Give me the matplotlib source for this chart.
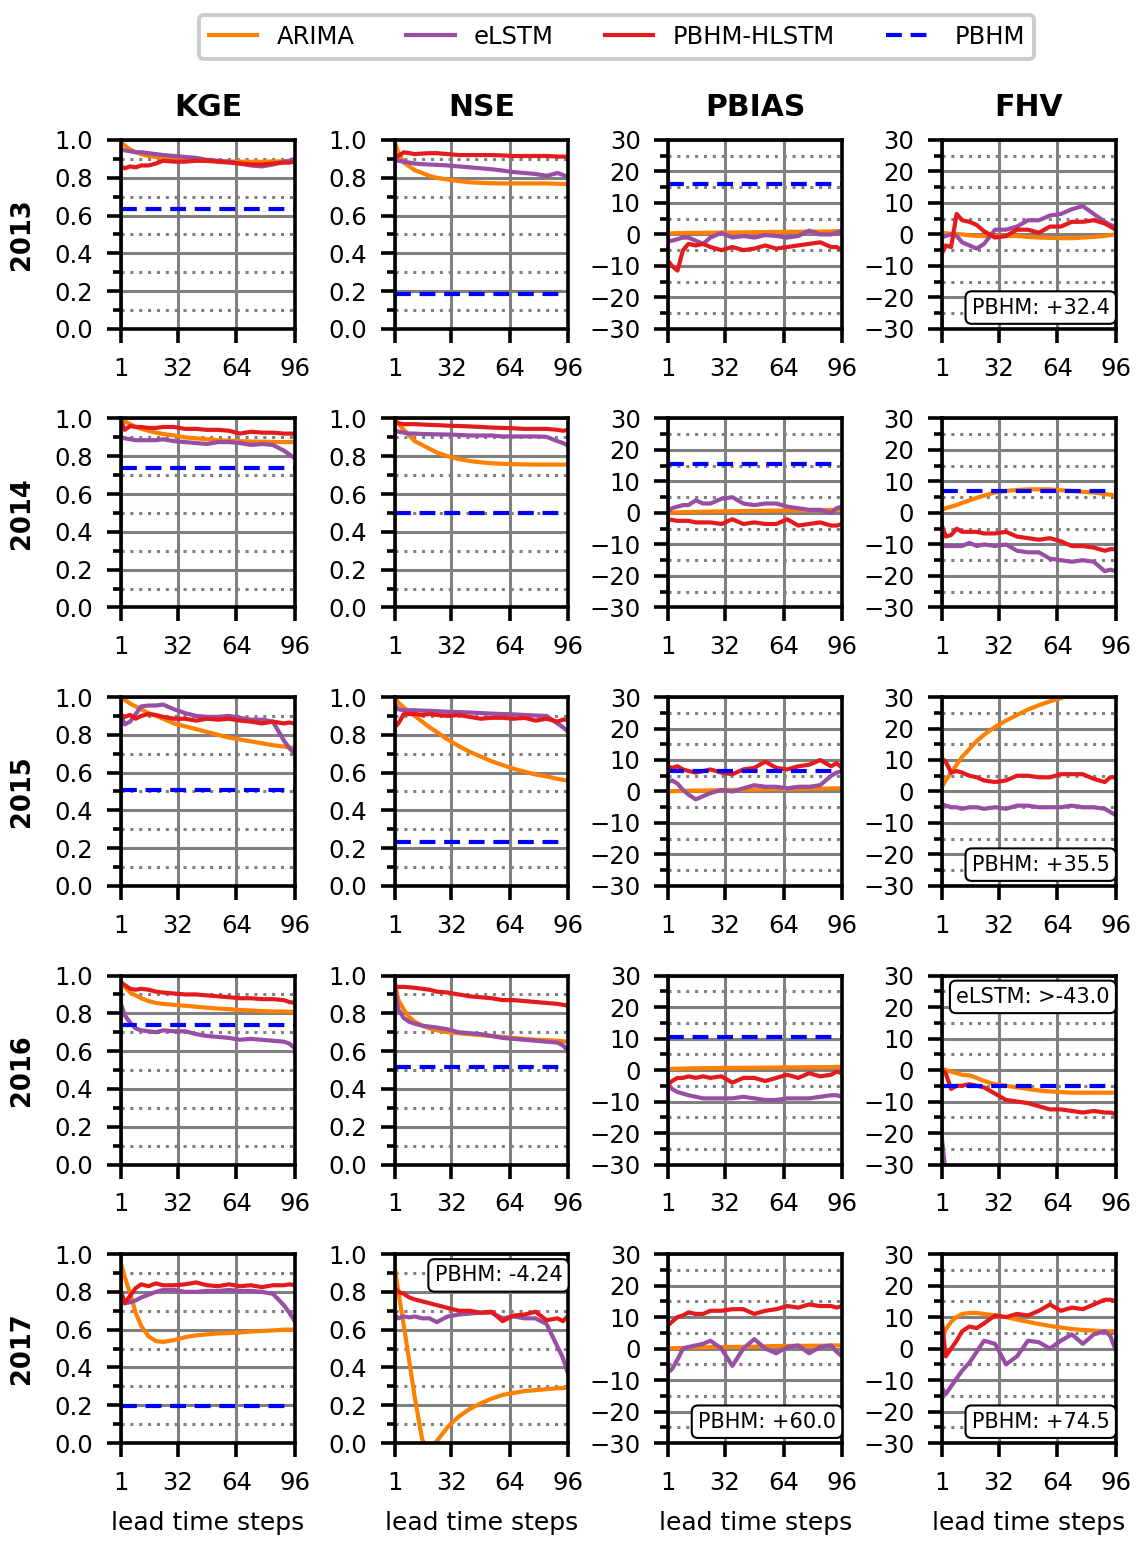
import matplotlib
matplotlib.use("Agg")
import matplotlib.pyplot as plt
from matplotlib.ticker import MultipleLocator

LEAD = [1, 3, 6, 9, 12, 16, 20, 24, 30, 36, 42, 48, 54, 60, 66, 72, 78, 84, 90, 93, 96]
YEARS = [2013, 2014, 2015, 2016, 2017]
METRICS = ["KGE", "NSE", "PBIAS", "FHV"]

# ---- KGE ----
KGE_ARIMA = {
    2013: [0.99, 0.97, 0.95, 0.935, 0.925, 0.915, 0.91, 0.905, 0.895, 0.89, 0.89, 0.888, 0.887, 0.886, 0.885, 0.885, 0.885, 0.886, 0.887, 0.888, 0.89],
    2014: [1.0, 0.985, 0.97, 0.955, 0.945, 0.935, 0.925, 0.918, 0.91, 0.9, 0.895, 0.89, 0.885, 0.882, 0.88, 0.878, 0.877, 0.876, 0.875, 0.875, 0.875],
    2015: [1.0, 0.985, 0.965, 0.95, 0.935, 0.915, 0.9, 0.885, 0.86, 0.845, 0.83, 0.815, 0.80, 0.785, 0.775, 0.765, 0.755, 0.745, 0.738, 0.733, 0.73],
    2016: [0.97, 0.94, 0.91, 0.895, 0.88, 0.865, 0.855, 0.85, 0.845, 0.84, 0.835, 0.83, 0.825, 0.822, 0.818, 0.815, 0.812, 0.81, 0.81, 0.808, 0.808],
    2017: [0.95, 0.88, 0.79, 0.69, 0.62, 0.565, 0.54, 0.535, 0.545, 0.56, 0.57, 0.575, 0.58, 0.582, 0.585, 0.59, 0.593, 0.596, 0.6, 0.6, 0.6],
}
KGE_ELSTM = {
    2013: [0.95, 0.945, 0.94, 0.935, 0.935, 0.93, 0.925, 0.92, 0.915, 0.91, 0.905, 0.895, 0.89, 0.885, 0.875, 0.865, 0.86, 0.87, 0.885, 0.89, 0.9],
    2014: [0.9, 0.895, 0.89, 0.885, 0.885, 0.885, 0.885, 0.89, 0.88, 0.875, 0.87, 0.865, 0.875, 0.875, 0.87, 0.86, 0.865, 0.86, 0.83, 0.81, 0.79],
    2015: [0.9, 0.855, 0.87, 0.91, 0.95, 0.955, 0.955, 0.96, 0.935, 0.915, 0.9, 0.895, 0.895, 0.9, 0.89, 0.88, 0.88, 0.87, 0.77, 0.73, 0.70],
    2016: [0.85, 0.79, 0.75, 0.72, 0.71, 0.705, 0.70, 0.71, 0.705, 0.705, 0.69, 0.68, 0.675, 0.67, 0.66, 0.665, 0.66, 0.655, 0.65, 0.64, 0.615],
    2017: [0.8, 0.74, 0.745, 0.755, 0.77, 0.785, 0.8, 0.81, 0.81, 0.8, 0.8, 0.805, 0.805, 0.81, 0.805, 0.805, 0.8, 0.79, 0.73, 0.69, 0.645],
}
KGE_HLSTM = {
    2013: [0.86, 0.85, 0.86, 0.855, 0.865, 0.865, 0.875, 0.89, 0.885, 0.885, 0.89, 0.89, 0.885, 0.88, 0.875, 0.87, 0.87, 0.875, 0.88, 0.88, 0.885],
    2014: [0.99, 0.94, 0.96, 0.955, 0.955, 0.95, 0.95, 0.955, 0.955, 0.945, 0.945, 0.94, 0.94, 0.935, 0.92, 0.93, 0.925, 0.925, 0.92, 0.92, 0.92],
    2015: [0.905, 0.895, 0.905, 0.885, 0.9, 0.91, 0.905, 0.895, 0.885, 0.885, 0.875, 0.885, 0.88, 0.885, 0.875, 0.87, 0.86, 0.87, 0.86, 0.865, 0.86],
    2016: [0.96, 0.95, 0.93, 0.925, 0.93, 0.925, 0.915, 0.91, 0.905, 0.9, 0.9, 0.895, 0.89, 0.885, 0.88, 0.88, 0.875, 0.875, 0.87, 0.86, 0.855],
    2017: [0.8, 0.74, 0.78, 0.82, 0.84, 0.83, 0.845, 0.835, 0.835, 0.84, 0.85, 0.835, 0.83, 0.84, 0.83, 0.835, 0.825, 0.835, 0.835, 0.84, 0.835],
}
KGE_PBHM = {2013: 0.635, 2014: 0.74, 2015: 0.51, 2016: 0.74, 2017: 0.195}

# ---- NSE ----
NSE_ARIMA = {
    2013: [0.99, 0.93, 0.88, 0.86, 0.84, 0.825, 0.81, 0.80, 0.79, 0.782, 0.776, 0.773, 0.771, 0.77, 0.77, 0.77, 0.77, 0.77, 0.768, 0.767, 0.765],
    2014: [1.0, 0.97, 0.94, 0.91, 0.88, 0.86, 0.84, 0.82, 0.80, 0.785, 0.775, 0.768, 0.763, 0.76, 0.758, 0.757, 0.756, 0.756, 0.756, 0.756, 0.756],
    2015: [1.0, 0.97, 0.945, 0.92, 0.9, 0.87, 0.84, 0.815, 0.775, 0.74, 0.71, 0.685, 0.66, 0.64, 0.62, 0.605, 0.59, 0.58, 0.567, 0.562, 0.556],
    2016: [0.97, 0.87, 0.82, 0.78, 0.755, 0.735, 0.72, 0.71, 0.70, 0.695, 0.69, 0.685, 0.68, 0.675, 0.67, 0.665, 0.66, 0.658, 0.655, 0.652, 0.65],
    2017: [0.93, 0.8, 0.62, 0.43, 0.24, 0.02, -0.06, 0.01, 0.085, 0.14, 0.18, 0.21, 0.235, 0.255, 0.265, 0.275, 0.28, 0.285, 0.29, 0.29, 0.295],
}
NSE_ELSTM = {
    2013: [0.9, 0.89, 0.885, 0.88, 0.875, 0.872, 0.87, 0.868, 0.865, 0.86, 0.855, 0.85, 0.845, 0.838, 0.83, 0.825, 0.82, 0.81, 0.825, 0.815, 0.80],
    2014: [0.94, 0.93, 0.925, 0.92, 0.92, 0.918, 0.917, 0.916, 0.915, 0.913, 0.91, 0.91, 0.91, 0.905, 0.905, 0.905, 0.905, 0.903, 0.88, 0.87, 0.855],
    2015: [0.96, 0.935, 0.93, 0.93, 0.93, 0.928, 0.927, 0.925, 0.922, 0.92, 0.918, 0.915, 0.912, 0.91, 0.908, 0.905, 0.902, 0.9, 0.86, 0.84, 0.815],
    2016: [0.93, 0.82, 0.775, 0.755, 0.745, 0.735, 0.73, 0.725, 0.715, 0.70, 0.695, 0.69, 0.68, 0.67, 0.665, 0.66, 0.655, 0.65, 0.645, 0.63, 0.60],
    2017: [0.68, 0.66, 0.67, 0.665, 0.67, 0.66, 0.66, 0.64, 0.67, 0.68, 0.685, 0.69, 0.69, 0.66, 0.67, 0.66, 0.66, 0.63, 0.51, 0.45, 0.36],
}
NSE_HLSTM = {
    2013: [0.92, 0.915, 0.935, 0.93, 0.925, 0.928, 0.93, 0.93, 0.925, 0.92, 0.92, 0.92, 0.92, 0.918, 0.915, 0.915, 0.915, 0.915, 0.912, 0.912, 0.91],
    2014: [0.98, 0.975, 0.97, 0.97, 0.97, 0.968, 0.966, 0.965, 0.962, 0.96, 0.958, 0.955, 0.952, 0.95, 0.948, 0.945, 0.945, 0.945, 0.94, 0.935, 0.94],
    2015: [0.84, 0.86, 0.91, 0.91, 0.91, 0.905, 0.91, 0.905, 0.9, 0.905, 0.895, 0.885, 0.89, 0.89, 0.885, 0.89, 0.875, 0.885, 0.87, 0.88, 0.88],
    2016: [0.94, 0.94, 0.94, 0.938, 0.935, 0.93, 0.925, 0.915, 0.91, 0.90, 0.89, 0.885, 0.88, 0.87, 0.87, 0.865, 0.86, 0.855, 0.85, 0.845, 0.84],
    2017: [0.82, 0.8, 0.79, 0.77, 0.76, 0.75, 0.74, 0.73, 0.715, 0.70, 0.70, 0.69, 0.695, 0.645, 0.675, 0.68, 0.695, 0.65, 0.66, 0.645, 0.675],
}
NSE_PBHM = {2013: 0.185, 2014: 0.5, 2015: 0.235, 2016: 0.515, 2017: -4.24}

# ---- PBIAS ----
PBIAS_ARIMA = {
    2013: [0.3, 0.35, 0.4, 0.45, 0.5, 0.5, 0.5, 0.55, 0.6, 0.6, 0.65, 0.7, 0.75, 0.8, 0.85, 0.85, 0.9, 0.9, 0.95, 1.0, 1.0],
    2014: [0.0, 0.1, 0.2, 0.25, 0.3, 0.35, 0.4, 0.45, 0.5, 0.55, 0.6, 0.65, 0.7, 0.75, 0.8, 0.8, 0.85, 0.9, 0.95, 1.0, 1.0],
    2015: [0.0, 0.1, 0.15, 0.2, 0.25, 0.3, 0.3, 0.35, 0.4, 0.5, 0.55, 0.6, 0.7, 0.75, 0.8, 0.85, 0.9, 0.9, 0.95, 1.0, 1.0],
    2016: [0.3, 0.35, 0.4, 0.45, 0.5, 0.55, 0.6, 0.6, 0.65, 0.7, 0.7, 0.75, 0.75, 0.8, 0.85, 0.85, 0.9, 0.9, 0.95, 1.0, 1.0],
    2017: [0.0, 0.1, 0.15, 0.2, 0.3, 0.35, 0.4, 0.45, 0.5, 0.5, 0.55, 0.6, 0.7, 0.8, 0.85, 0.85, 0.9, 0.9, 0.95, 1.0, 1.0],
}
PBIAS_ELSTM = {
    2013: [-2, -2, -1.5, -1, -1, -2, -3, -1, 0.5, -1, -0.5, -1, -0.2, -0.5, -1, -0.5, 1.2, 0, 0, 0.5, 1.2],
    2014: [0.5, 1.5, 2, 2.5, 2.5, 4, 3, 3, 4.5, 5, 3, 2.5, 3, 3, 2, 1.5, 1, 1, 0, 1.5, 2],
    2015: [3, 3.5, 2.5, 0.5, -1, -2.5, -1.5, -0.5, 0.5, 0, 1, 2, 1.5, 1.5, 1, 1.5, 1.5, 2, 5, 6, 6.5],
    2016: [-4.5, -6, -7, -7.5, -8, -8.5, -9, -9, -9, -9, -8.5, -9, -9.5, -9.5, -9, -9, -9, -8.5, -8, -8, -8.5],
    2017: [-7.5, -6.5, -3.5, 0, 0.5, 1, 1.5, 2.5, 0, -5.5, 0, 3, 0, -1.5, 0.5, 1, -1.5, 0.5, 1, -1, -2.5],
}
PBIAS_HLSTM = {
    2013: [-8.5, -10, -11.5, -5, -3, -3.5, -3, -4, -5, -4, -5, -4.5, -3.5, -4.5, -4, -3.5, -3, -2.5, -4, -4, -5],
    2014: [-2, -2.2, -2.5, -2.5, -2.5, -3, -3, -3, -3.5, -2, -3.5, -3, -3.5, -3.5, -2, -4, -3.5, -3, -4, -4, -3.5],
    2015: [8, 7.5, 8, 7, 6.5, 6, 6.5, 7, 6, 5.5, 7, 7.5, 9.5, 7.5, 7, 8, 8.5, 10, 8, 9, 7.5],
    2016: [-4.5, -3.5, -2.5, -2.5, -2, -2.5, -2, -2.5, -2, -4, -2.5, -2.5, -3.5, -2.5, -1.5, -2.5, -1, -2, -1.5, -0.5, -1],
    2017: [7.5, 8.5, 10, 10.5, 11.5, 11, 11, 12, 12, 12.5, 12.5, 11, 12, 12.5, 13.5, 13, 14, 13.5, 13.5, 13, 13.5],
}
PBIAS_PBHM = {2013: 16, 2014: 15.5, 2015: 6.5, 2016: 10.5, 2017: 60.0}

# ---- FHV ----
FHV_ARIMA = {
    2013: [0.5, 0.4, 0.2, 0.1, 0, -0.3, -0.5, -0.5, -0.5, -0.5, -0.5, -0.8, -1, -1.1, -1.2, -1.2, -1, -0.8, -0.5, -0.2, 0],
    2014: [1, 1.5, 2, 2.5, 3.2, 4, 4.8, 5.5, 6.5, 7, 7.3, 7.5, 7.5, 7.5, 7.2, 7, 6.7, 6.5, 6, 5.8, 5.5],
    2015: [1.5, 3.5, 6, 8.5, 11, 13.5, 16, 18, 20.5, 22.5, 24.3, 26, 27.4, 28.6, 29.7, 30.6, 31.4, 32.1, 32.7, 33, 33.2],
    2016: [0.5, 0, -0.5, -1, -1.5, -1.7, -2.5, -3.5, -4.5, -5, -5.5, -6, -6.5, -6.8, -7, -7.2, -7.2, -7.2, -7.2, -7.2, -7.2],
    2017: [3, 6, 8.5, 10, 11, 11.3, 11.3, 11, 10.5, 10, 9.2, 8.5, 7.8, 7.2, 6.7, 6.2, 5.9, 5.7, 5.5, 5.5, 5.5],
}
FHV_ELSTM = {
    2013: [-1, -0.5, 0, -0.5, -2.5, -3.5, -4.5, -3, 1.5, 1.5, 2.5, 4.5, 4.5, 6, 6.5, 8, 9, 6.5, 4, 3, 2.5],
    2014: [-10.5, -10.5, -10.5, -10.5, -10.5, -9.5, -10.5, -10, -10.5, -10, -12, -12.5, -12.5, -14.5, -15, -15.5, -15, -15.5, -18.5, -18, -18.5],
    2015: [-4, -4.5, -5, -5, -5.5, -5, -5, -5.5, -5, -5.5, -4.5, -4.5, -5, -5, -5, -4.5, -5, -5, -5.5, -6.5, -7.5],
    2016: [-22, -33, -38, -40, -41, -42, -42, -42, -41, -41, -40, -40, -41, -42, -42, -41, -41, -42, -42, -42, -42],
    2017: [-12.5, -14.5, -12, -9.5, -7, -4.5, -1, 2.5, 1.5, -5, -2.5, 2.5, 2, 0, 2.5, 4.5, 1.5, 4.5, 5.5, 4, -0.5],
}
FHV_HLSTM = {
    2013: [-6, -3.5, -4, 6.5, 4.5, 4, 3, 1, -1, -0.5, 1.5, 1.5, 0.5, 2.5, 2.5, 4, 4, 4.5, 3.5, 2.5, 1.5],
    2014: [-4, -7.5, -7, -5, -6, -6, -6, -6.5, -6.5, -6, -7.5, -8, -8.5, -8, -9, -10.5, -10.5, -11, -12, -11.5, -11.5],
    2015: [10.5, 9.5, 6, 6.5, 6, 5, 4.5, 3.5, 3, 3.5, 5, 5, 4.5, 4.5, 5.5, 5.5, 5.5, 4, 3, 4.5, 4.5],
    2016: [0, -1, -6, -5, -5, -4.5, -5, -5.5, -7.5, -9.5, -10, -10.5, -11.5, -12.5, -12.5, -13, -13.5, -13, -13.5, -13.5, -14],
    2017: [8.5, -2.5, 0, 2.5, 5.5, 7, 6.5, 8, 10.5, 10, 11, 10.5, 12, 14, 12, 13, 12.5, 14, 15.5, 15.5, 15],
}
FHV_PBHM = {2013: 32.4, 2014: 7, 2015: 35.5, 2016: -5, 2017: 74.5}

# notes for values that fall outside the axis range: (metric, year, text, corner)
NOTES = [
    ("FHV", 2013, "PBHM: +32.4", "bottom"),
    ("FHV", 2015, "PBHM: +35.5", "bottom"),
    ("FHV", 2016, "eLSTM: >-43.0", "top"),
    ("NSE", 2017, "PBHM: -4.24", "top"),
    ("PBIAS", 2017, "PBHM: +60.0", "bottom"),
    ("FHV", 2017, "PBHM: +74.5", "bottom"),
]

DATA = {
    "KGE": (KGE_ARIMA, KGE_ELSTM, KGE_HLSTM, KGE_PBHM),
    "NSE": (NSE_ARIMA, NSE_ELSTM, NSE_HLSTM, NSE_PBHM),
    "PBIAS": (PBIAS_ARIMA, PBIAS_ELSTM, PBIAS_HLSTM, PBIAS_PBHM),
    "FHV": (FHV_ARIMA, FHV_ELSTM, FHV_HLSTM, FHV_PBHM),
}

C_ARIMA = "#ff7f00"
C_ELSTM = "#984ea3"
C_HLSTM = "#e41a1c"
C_PBHM = "#0000ff"

plt.rcParams["font.family"] = "DejaVu Sans"
plt.rcParams["font.size"] = 18

fig = plt.figure(figsize=(11.42, 15.48), dpi=100)
axes = fig.subplots(5, 4)
fig.subplots_adjust(left=0.106, right=0.977, top=0.9096, bottom=0.0678,
                    wspace=0.575, hspace=0.474)

LW = 3.0
for i, year in enumerate(YEARS):
    for j, metric in enumerate(METRICS):
        ax = axes[i, j]
        arima, elstm, hlstm, pbhm = DATA[metric]
        ax.plot(LEAD, arima[year], color=C_ARIMA, lw=LW, label="ARIMA")
        ax.plot(LEAD, elstm[year], color=C_ELSTM, lw=LW, label="eLSTM")
        ax.plot(LEAD, hlstm[year], color=C_HLSTM, lw=LW, label="PBHM-HLSTM")
        ax.plot([LEAD[0], LEAD[-1]], [pbhm[year], pbhm[year]], color=C_PBHM,
                lw=LW, dashes=(3.8, 2.1), label="PBHM")

        ax.set_xlim(1, 96)
        ax.set_xticks([1, 32, 64, 96])
        if metric in ("KGE", "NSE"):
            ax.set_ylim(0, 1)
            ax.yaxis.set_major_locator(MultipleLocator(0.2))
            ax.yaxis.set_minor_locator(MultipleLocator(0.1))
            ax.yaxis.set_major_formatter(lambda v, p: "%.1f" % v)
        else:
            ax.set_ylim(-30, 30)
            ax.yaxis.set_major_locator(MultipleLocator(10))
            ax.yaxis.set_minor_locator(MultipleLocator(5))

        ax.set_axisbelow(True)
        ax.grid(which="major", color="gray", lw=2.2)
        ax.grid(which="minor", axis="y", color="gray", lw=2.2, ls=(0, (1, 1.9)))
        for s in ax.spines.values():
            s.set_linewidth(2.6)
            s.set_zorder(5)
        ax.tick_params(which="major", length=10, width=2.6, pad=10, labelsize=17.5)
        ax.tick_params(which="minor", length=6, width=2.6)

        if i == 0:
            ax.set_title(metric, fontsize=21.5, fontweight="bold", pad=17.5)
        if i == len(YEARS) - 1:
            ax.set_xlabel("lead time steps", fontsize=18, labelpad=12)

    pos = axes[i, 0].get_position()
    fig.text(0.019, (pos.y0 + pos.y1) / 2, str(year), rotation=90,
             fontsize=18.5, fontweight="bold", ha="center", va="center")

for metric, year, text, corner in NOTES:
    ax = axes[YEARS.index(year), METRICS.index(metric)]
    y = 0.06 if corner == "bottom" else 0.94
    va = "bottom" if corner == "bottom" else "top"
    ax.text(0.965, y, text, transform=ax.transAxes, ha="right", va=va,
            fontsize=15, zorder=6,
            bbox=dict(boxstyle="round,pad=0.3", fc="white", ec="black", lw=1.5))

handles, labels = axes[0, 0].get_legend_handles_labels()
leg = fig.legend(handles, labels, loc="upper center", bbox_to_anchor=(0.54, 0.998),
                 ncol=4, fontsize=17.5, handlelength=2.0, columnspacing=2.1,
                 edgecolor="#cccccc", framealpha=1)
leg.get_frame().set_linewidth(2.8)

fig.savefig("out.png", dpi=100)
